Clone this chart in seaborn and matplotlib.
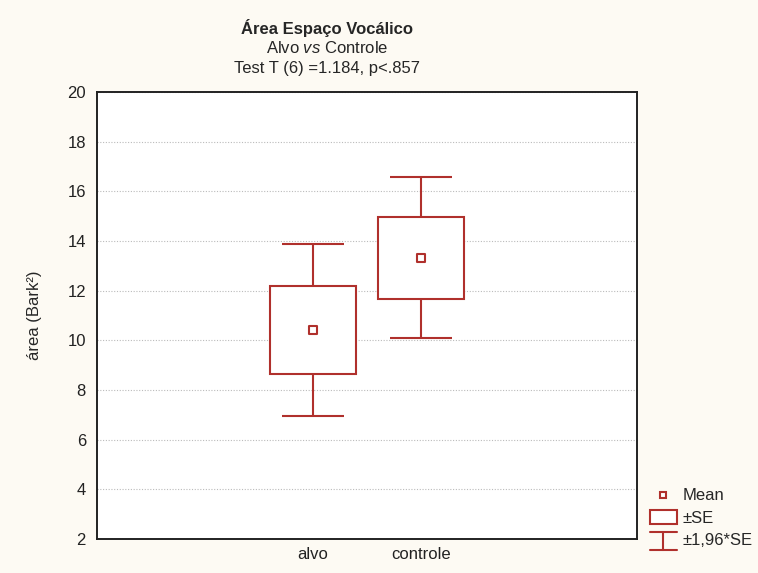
import numpy as np
import pandas as pd
import seaborn as sns
import matplotlib.pyplot as plt
from matplotlib.lines import Line2D
from matplotlib.patches import Patch, Rectangle
from matplotlib.legend_handler import HandlerBase

# values
groups = ["alvo", "controle"]
means = [10.42, 13.32]
se = [1.775, 1.655]
tick_labels = ["", "alvo", "controle", ""]
y_ticks = [2, 4, 6, 8, 10, 12, 14, 16, 18, 20]

RED = "#B0302C"
BG = "#FDFAF3"
FS = 12

sns.set_style("white")
plt.rcParams["font.family"] = ["Liberation Sans", "DejaVu Sans"]
plt.rcParams["mathtext.fontset"] = "custom"
plt.rcParams["mathtext.it"] = "Liberation Sans:italic"
plt.rcParams["mathtext.rm"] = "Liberation Sans"

df = pd.DataFrame({"group": groups, "mean": means, "se": se})
df["x"] = np.arange(len(df)) + 2
df["ci"] = 1.96 * df["se"]

fig = plt.figure(figsize=(7.58, 5.73), dpi=100, facecolor=BG)
ax = fig.add_axes([0.128, 0.0593, 0.712, 0.7801])
ax.set_facecolor("white")

# whiskers (±1.96*SE)
cap_half = 0.29
ax.vlines(df["x"], df["mean"] - df["ci"], df["mean"] + df["ci"], color=RED, lw=1.5, zorder=2)
ax.hlines(df["mean"] - df["ci"], df["x"] - cap_half, df["x"] + cap_half, color=RED, lw=1.5, zorder=2)
ax.hlines(df["mean"] + df["ci"], df["x"] - cap_half, df["x"] + cap_half, color=RED, lw=1.5, zorder=2)

# boxes (±SE)
ax.bar(df["x"], 2 * df["se"], bottom=df["mean"] - df["se"], width=0.8,
       color="white", edgecolor=RED, linewidth=1.5, zorder=3)

# mean markers
sns.scatterplot(data=df, x="x", y="mean", marker="s", s=30, color="white",
                edgecolor=RED, linewidth=1.5, zorder=4, ax=ax, legend=False)

ax.set_xlim(0, 5)
ax.set_ylim(2, 20)
ax.set_xticks([1, 2, 3, 4])
ax.set_xticklabels(tick_labels)
ax.set_yticks(y_ticks)
ax.set_xlabel("")
ax.set_ylabel("área (Bark²)", fontsize=FS, labelpad=18)
ax.tick_params(direction="in", length=3, width=1, labelsize=FS, colors="#222222")
ax.tick_params(axis="y", pad=8)
ax.tick_params(axis="x", pad=6)
ax.yaxis.grid(True, linestyle=(0, (1, 1.5)), color="#BBBBBB", lw=0.8)
for s in ax.spines.values():
    s.set_color("#222222")
    s.set_linewidth(1.4)

# title block
fig.text(0.431, 0.951, "Área Espaço Vocálico", ha="center", va="center",
         fontsize=FS, fontweight="bold")
fig.text(0.431, 0.916, r"Alvo $\it{vs}$ Controle", ha="center", va="center", fontsize=FS)
fig.text(0.431, 0.881, "Test T (6) =1.184, p<.857", ha="center", va="center", fontsize=FS)


class WhiskerHandler(HandlerBase):
    def create_artists(self, legend, orig_handle, xdescent, ydescent,
                       width, height, fontsize, trans):
        cx = width / 2 - xdescent
        y0, y1 = -ydescent - 3, height - ydescent + 1
        arts = [
            Line2D([cx, cx], [y0, y1], color=RED, lw=1.5),
            Line2D([0, width], [y0, y0], color=RED, lw=1.5),
            Line2D([0, width], [y1, y1], color=RED, lw=1.5),
        ]
        for a in arts:
            a.set_transform(trans)
        return arts


class BoxHandler(HandlerBase):
    def create_artists(self, legend, orig_handle, xdescent, ydescent,
                       width, height, fontsize, trans):
        r = Rectangle((-xdescent, -ydescent - 1), width, height + 2,
                      facecolor="white", edgecolor=RED, lw=1.5, transform=trans)
        return [r]


h_mean = Line2D([], [], marker="s", linestyle="none", markersize=5,
                markerfacecolor="white", markeredgecolor=RED, markeredgewidth=1.5)
h_box = Patch()
h_whisk = object()
fig.legend([h_mean, h_box, h_whisk], ["Mean", "±SE", "±1,96*SE"],
           handler_map={Patch: BoxHandler(), object: WhiskerHandler()},
           loc="lower left", bbox_to_anchor=(0.857, 0.043), frameon=False,
           fontsize=FS, handlelength=1.65, handletextpad=0.35, labelspacing=0.45,
           borderpad=0, borderaxespad=0)

fig.savefig("out.png", dpi=100, facecolor=BG)
